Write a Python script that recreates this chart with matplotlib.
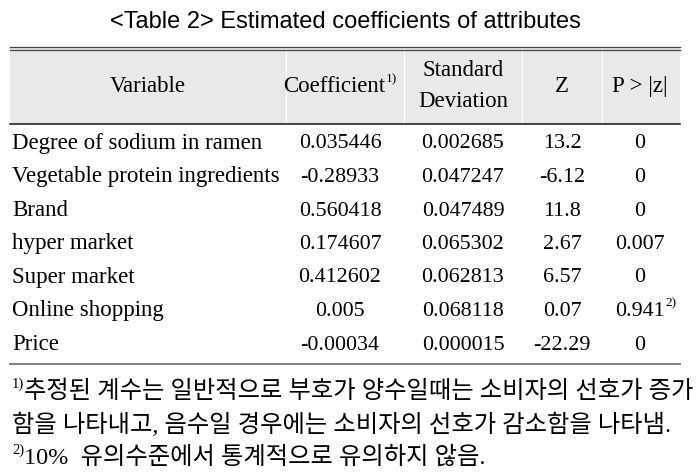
import matplotlib.pyplot as plt
from matplotlib.patches import Rectangle

# table contents
title = '<Table 2> Estimated coefficients of attributes'
variables = ['Degree of sodium in ramen', 'Vegetable protein ingredients', 'Brand',
             'hyper market', 'Super market', 'Online shopping', 'Price']
coefficients = ['0.035446', '-0.28933', '0.560418', '0.174607', '0.412602', '0.005', '-0.00034']
std_devs = ['0.002685', '0.047247', '0.047489', '0.065302', '0.062813', '0.068118', '0.000015']
z_values = ['13.2', '-6.12', '11.8', '2.67', '6.57', '0.07', '-22.29']
p_values = ['0', '0', '0', '0.007', '0', '0.941', '0']
p_notes = ['', '', '', '', '', '2)', '']
footnotes = [('1)', '추정된 계수는 일반적으로 부호가 양수일때는 소비자의 선호가 증가'),
             ('', '함을 나타내고, 음수일 경우에는 소비자의 선호가 감소함을 나타냄.'),
             ('2)', '10%  유의수준에서 통계적으로 유의하지 않음.')]

W, H = 699, 475
serif = ['Liberation Serif', 'Noto Sans CJK KR']
fs = 16.5
fs_num = 15.8
fs_foot = 17.5

fig = plt.figure(figsize=(W / 100, H / 100), dpi=100)
ax = fig.add_axes([0, 0, 1, 1])
ax.set_xlim(0, W)
ax.set_ylim(H, 0)
ax.axis('off')

ax.text(345, 22, title, ha='center', va='center', fontsize=17, family='Liberation Sans')

# header band and rules
x0, x1 = 10, 680
ax.add_patch(Rectangle((x0, 48), x1 - x0, 75, facecolor='#e9e9e9', edgecolor='none'))
for xv in [286, 404, 522, 602]:
    ax.plot([xv, xv], [49, 123], color='white', lw=0.8)
ax.plot([x0, x1], [47, 47], color='#444444', lw=0.9)
ax.plot([x0, x1], [49.7, 49.7], color='#444444', lw=0.9)
ax.plot([x0, x1], [123.5, 123.5], color='#111111', lw=1.1)
ax.plot([x0, x1], [364, 364], color='#777777', lw=1.3)

fig.canvas.draw()
renderer = fig.canvas.get_renderer()
inv = ax.transData.inverted()


def right_edge(t):
    bb = t.get_window_extent(renderer)
    return inv.transform((bb.x1, bb.y1))[0]


def sup(x, y, s, size=9.5):
    return ax.text(x, y, s, ha='left', va='baseline', fontsize=size, family=serif)


# header labels (y values are baselines)
col_x = [148, 340, 463, 562, 640]
hy = 92
ax.text(col_x[0], hy, 'Variable', ha='center', va='baseline', fontsize=fs, family=serif)
t = ax.text(col_x[1] - 6, hy, 'Coefficient', ha='center', va='baseline', fontsize=fs, family=serif)
sup(right_edge(t) + 1, hy - 10, '1)')
ax.text(col_x[2], 76, 'Standard', ha='center', va='baseline', fontsize=fs, family=serif)
ax.text(col_x[2], 107, 'Deviation', ha='center', va='baseline', fontsize=fs, family=serif)
ax.text(col_x[3], hy, 'Z', ha='center', va='baseline', fontsize=fs, family=serif)
ax.text(col_x[4], hy, 'P > |z|', ha='center', va='baseline', fontsize=fs, family=serif)

# body rows
row_base = [148.5 + 33.5 * i for i in range(len(variables))]
for i, y in enumerate(row_base):
    ax.text(12, y, variables[i], ha='left', va='baseline', fontsize=fs, family=serif)
    ax.text(col_x[1], y, coefficients[i], ha='center', va='baseline', fontsize=fs_num, family=serif)
    ax.text(col_x[2], y, std_devs[i], ha='center', va='baseline', fontsize=fs_num, family=serif)
    ax.text(col_x[3], y, z_values[i], ha='center', va='baseline', fontsize=fs_num, family=serif)
    t = ax.text(col_x[4], y, p_values[i], ha='center', va='baseline', fontsize=fs_num, family=serif)
    if p_notes[i]:
        sup(right_edge(t) + 1, y - 10, p_notes[i])

# footnotes
foot_base = [398, 432, 464]
for (mark, txt), y in zip(footnotes, foot_base):
    x = 12
    if mark:
        m = sup(x, y - 10, mark, size=10.5)
        x = right_edge(m)
    ax.text(x, y, txt, ha='left', va='baseline', fontsize=fs_foot, family=serif)

fig.savefig('out.png', dpi=100)
